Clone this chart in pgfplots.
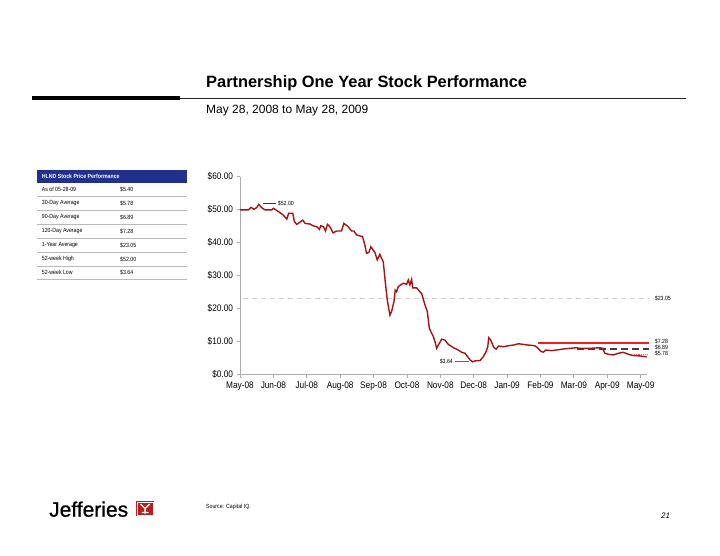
\documentclass[border=0pt]{standalone}
\usepackage{pgfplots}
\pgfplotsset{compat=1.18}
\usepackage{pgfplotstable}
\usepackage{fontspec}
\setmainfont{Liberation Sans}
\newfontfamily\narrow[FakeStretch=0.87]{Liberation Sans}
\newfontfamily\logofont[FakeBold=0.8]{Liberation Sans}
\definecolor{price}{RGB}{165,20,20}
\definecolor{navy}{RGB}{32,48,140}
\definecolor{logored}{RGB}{185,30,30}
\definecolor{avgred}{RGB}{240,30,30}

\pgfplotstableread{
m v
0.00 49.9
0.25 49.9
0.33 50.7
0.42 50.1
0.50 50.6
0.56 51.6
0.65 50.6
0.75 49.9
0.95 49.9
1.00 50.4
1.15 49.4
1.30 48.3
1.40 47.1
1.46 48.9
1.58 48.9
1.63 46.3
1.70 45.5
1.88 46.8
1.95 45.8
2.10 45.6
2.18 45.1
2.30 44.8
2.38 44.0
2.42 45.1
2.50 44.8
2.56 43.5
2.62 45.5
2.69 44.8
2.79 42.9
2.89 43.5
3.04 43.5
3.11 45.8
3.24 44.8
3.34 43.5
3.41 43.5
3.49 42.3
3.59 42.0
3.67 41.8
3.74 39.2
3.79 36.7
3.86 37.0
3.92 38.7
3.99 37.7
4.04 37.0
4.11 34.7
4.19 36.4
4.24 35.2
4.29 34.2
4.34 29.1
4.41 22.5
4.49 17.9
4.54 19.0
4.61 22.0
4.65 25.5
4.69 25.0
4.74 26.6
4.89 27.6
4.99 27.3
5.04 28.6
5.09 27.1
5.14 28.8
5.17 26.2
5.29 26.2
5.39 25.0
5.44 24.5
5.54 21.0
5.61 19.0
5.67 13.9
5.74 12.4
5.79 11.4
5.84 9.8
5.89 7.8
5.94 8.8
6.04 10.6
6.14 10.3
6.24 9.0
6.39 8.0
6.54 7.3
6.64 6.6
6.74 6.3
6.79 5.6
6.89 4.3
6.97 3.7
7.04 4.0
7.19 4.1
7.29 5.3
7.37 6.8
7.42 8.3
7.45 11.0
7.51 10.3
7.59 8.3
7.67 7.5
7.74 8.5
7.89 8.3
8.04 8.6
8.19 8.8
8.34 9.2
8.49 9.0
8.63 8.8
8.83 8.6
8.93 7.8
9.00 7.0
9.08 6.6
9.16 7.3
9.33 7.1
9.48 7.3
9.68 7.6
9.88 7.8
10.08 8.0
10.18 7.8
10.28 7.8
10.48 7.8
10.78 8.0
10.86 7.8
10.93 6.3
11.03 6.0
11.18 5.8
11.33 6.3
11.48 6.6
11.63 6.0
11.78 5.6
11.98 5.5
12.18 5.2
}\pricedata

\pgfplotstableread{
m v
8.93 9.33
12.25 9.33
}\avgonetwenty

\begin{document}
\begin{tikzpicture}[x=1pt,y=1pt]
\path[use as bounding box] (0,0) rectangle (720,-556);

% title block
\node[anchor=base west, inner sep=0, font=\bfseries\fontsize{16.4}{19}\selectfont] at (206,-87.7) {Partnership One Year Stock Performance};
\fill[black] (32.3,-96.3) rectangle (180,-100.3);
\draw[line width=0.9pt, black!85] (180,-98.8) -- (686,-98.8);
\node[anchor=base west, inner sep=0, font=\fontsize{12}{14}\selectfont] at (206,-114) {May 28, 2008 to May 28, 2009};

% table
\fill[navy] (36.7,-170) rectangle (186.7,-183.5);
\node[anchor=west, inner sep=0, text=white, font=\narrow\bfseries\fontsize{6}{7}\selectfont] at (41.7,-176.8) {HLND Stock Price Performance};
\foreach \yy/\sep/\lab/\val in {189.3/196.7/As of 05-28-09/\$5.40, 203.3/210.7/30-Day Average/\$5.78, 217.3/224.3/90-Day Average/\$6.89, 231/238.3/120-Day Average/\$7.28, 245/252.3/1-Year Average/\$23.05, 259/266/52-week High/\$52.00, 272.3/279.3/52-week Low/\$3.64}{
  \node[anchor=west, inner sep=0, font=\narrow\fontsize{6}{7}\selectfont] at (41.7,-\yy) {\lab};
  \node[anchor=west, inner sep=0, font=\narrow\fontsize{6}{7}\selectfont] at (120,-\yy) {\val};
  \draw[gray!55, line width=0.6pt] (36.7,-\sep) -- (186.7,-\sep);
}

% chart
\begin{axis}[
  at={(240pt,-374pt)}, anchor=south west,
  scale only axis, width=407pt, height=197.3pt,
  xmin=0, xmax=12.19, ymin=0, ymax=60,
  axis x line*=bottom, axis y line*=left,
  axis line style={gray!65, line width=0.8pt},
  tick style={gray!65, line width=0.8pt},
  tick align=outside, major tick length=3.5pt,
  xtick={0,1,...,12},
  xticklabels={May-08,Jun-08,Jul-08,Aug-08,Sep-08,Oct-08,Nov-08,Dec-08,Jan-09,Feb-09,Mar-09,Apr-09,May-09},
  xticklabel style={yshift=-1pt},
  ytick={0,10,...,60},
  yticklabels={\$0.00,\$10.00,\$20.00,\$30.00,\$40.00,\$50.00,\$60.00},
  ticklabel style={font=\narrow\fontsize{9.5}{11}\selectfont, text=black},
  clip=false,
]
\addplot[gray!35, line width=1pt, dash pattern=on 5pt off 4pt] coordinates {(0.1,23.05) (12.28,23.05)};
\addplot[color=black!75, line width=1.3pt, dash pattern=on 7pt off 4pt] coordinates {(10.1,7.6) (12.25,7.6)};
\addplot[color=price, line width=1.4pt] table[x=m, y=v] {\pricedata};
\addplot[color=avgred, line width=1.7pt] table[x=m, y=v] {\avgonetwenty};
\addplot[color=avgred!75, line width=1.2pt, dash pattern=on 1.2pt off 1pt] coordinates {(11.8,6.0) (12.25,6.0)};
\addplot[color=black!80, line width=1.1pt] coordinates {(0.68,51.8) (1.08,51.8)};
\addplot[color=black!60, line width=1.1pt] coordinates {(6.44,3.75) (6.86,3.75)};
\node[anchor=west, inner sep=0, font=\narrow\fontsize{6}{7}\selectfont] at (axis cs:1.13,51.9) {\$52.00};
\node[anchor=east, inner sep=0, font=\narrow\fontsize{6}{7}\selectfont] at (axis cs:6.38,3.9) {\$3.64};
\node[anchor=west, inner sep=0, font=\narrow\fontsize{6}{7}\selectfont] at (axis cs:12.42,22.9) {\$23.05};
\node[anchor=west, inner sep=0, font=\narrow\fontsize{6}{7}\selectfont] at (axis cs:12.42,9.8) {\$7.28};
\node[anchor=west, inner sep=0, font=\narrow\fontsize{6}{7}\selectfont] at (axis cs:12.42,8.0) {\$6.89};
\node[anchor=west, inner sep=0, font=\narrow\fontsize{6}{7}\selectfont] at (axis cs:12.42,6.2) {\$5.78};
\end{axis}

% footer
\node[anchor=base west, inner sep=0, font=\logofont\fontsize{21}{24}\selectfont] at (49,-516.7) {Jefferies};
\fill[logored] (136,-501) rectangle (154.3,-516);
\draw[white, line width=0.5pt] (137.2,-502.2) rectangle (153.1,-514.8);
\draw[white, line width=1.3pt] (140.5,-504) -- (145.1,-508.5) -- (149.7,-504) (145.1,-508.5) -- (145.1,-513.5) (141.5,-512.5) -- (148.7,-512.5);
\node[anchor=base west, inner sep=0, font=\narrow\fontsize{6}{7}\selectfont] at (206,-508) {Source: Capital IQ.};
\node[anchor=base west, inner sep=0, font=\itshape\fontsize{8}{9}\selectfont] at (661,-518) {21};
\end{tikzpicture}
\end{document}
